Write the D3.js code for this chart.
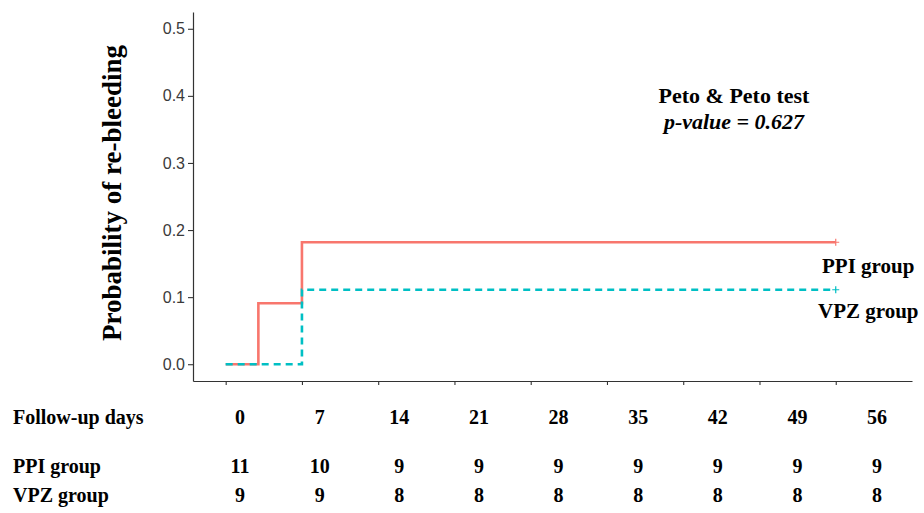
<!DOCTYPE html>
<html>
<head>
<meta charset="utf-8">
<script src="https://cdn.jsdelivr.net/npm/d3@7"></script>
<style>
  body { margin: 0; background: #fff; }
  .serif { font-family: "Liberation Serif", "Times New Roman", serif; font-weight: bold; fill: #000; }
</style>
</head>
<body>
<div class="km"></div>
<script>
// follow-up days shown in the risk table and as x ticks
const days = [0, 7, 14, 21, 28, 35, 42, 49, 56];
const ppiAtRisk = [11, 10, 9, 9, 9, 9, 9, 9, 9];
const vpzAtRisk = [9, 9, 8, 8, 8, 8, 8, 8, 8];

// cumulative probability of re-bleeding (step curves)
const ppiTime = [0, 3, 7, 56];
const ppiProb = [0, 0.0909, 0.1818, 0.1818];
const vpzTime = [0, 7, 56];
const vpzProb = [0, 0.111, 0.111];

const yTicks = [0, 0.1, 0.2, 0.3, 0.4, 0.5];

const width = 924, height = 513;

let svg = d3
  .select(".km")
  .append("svg")
  .attr("width", width)
  .attr("height", height);

// scales (ggplot style 5% expansion)
let x = d3.scaleLinear().domain([-3, 63]).range([193, 912]);
let y = d3.scaleLinear().domain([-0.025, 0.525]).range([381, 12]);

// axes
let xAxis = svg
  .append("g")
  .attr("transform", `translate(0, ${y(-0.025)})`)
  .call(d3.axisBottom(x).tickValues(days).tickFormat("").tickSize(4).tickSizeOuter(0));

let yAxis = svg
  .append("g")
  .attr("transform", `translate(${x(-3)}, 0)`)
  .call(
    d3.axisLeft(y).tickValues(yTicks).tickFormat(d3.format(".1f")).tickSize(5).tickPadding(3).tickSizeOuter(0)
  );

[xAxis, yAxis].forEach(function (a) {
  a.select(".domain").attr("stroke", "#333").attr("stroke-width", 1.2);
  a.selectAll(".tick line").attr("stroke", "#333").attr("stroke-width", 1.1);
});
yAxis
  .selectAll("text")
  .style("font-family", "'Liberation Sans', Arial, sans-serif")
  .style("font-size", "16px")
  .attr("fill", "#3a3a3a");

// y axis title
svg
  .append("text")
  .attr("class", "serif")
  .attr("transform", `translate(121, 193) rotate(-90)`)
  .attr("text-anchor", "middle")
  .style("font-size", "27px")
  .text("Probability of re-bleeding");

// step curves
let line = d3
  .line()
  .x(function (d) { return x(d[0]); })
  .y(function (d) { return y(d[1]); })
  .curve(d3.curveStepAfter);

let groups = [
  { time: ppiTime, prob: ppiProb, color: "#F8766D", dash: null },
  { time: vpzTime, prob: vpzProb, color: "#00BFC4", dash: "7,5" },
];

groups.forEach(function (g) {
  let pts = g.time.map(function (t, i) { return [t, g.prob[i]]; });
  svg
    .append("path")
    .datum(pts)
    .attr("d", line)
    .attr("fill", "none")
    .attr("stroke", g.color)
    .attr("stroke-width", 2.6)
    .attr("stroke-dasharray", g.dash);

  // censor mark at the end
  let last = pts[pts.length - 1];
  let cx = x(last[0]), cy = y(last[1]);
  svg
    .append("path")
    .attr("d", `M${cx - 3.5},${cy}H${cx + 3.5}M${cx},${cy - 3.5}V${cy + 3.5}`)
    .attr("stroke", g.color)
    .attr("stroke-width", 1.2);
});

// group labels near the curve ends
svg.append("text").attr("class", "serif").attr("x", 822).attr("y", 273)
  .style("font-size", "21px").text("PPI group");
svg.append("text").attr("class", "serif").attr("x", 818).attr("y", 318)
  .style("font-size", "21px").text("VPZ group");

// test annotation
svg.append("text").attr("class", "serif").attr("x", 734).attr("y", 103)
  .attr("text-anchor", "middle").style("font-size", "22px").text("Peto & Peto test");
svg.append("text").attr("class", "serif").attr("x", 734).attr("y", 129)
  .attr("text-anchor", "middle").style("font-size", "22px").style("font-style", "italic")
  .text("p-value = 0.627");

// number at risk table
let tableX = d3.scaleLinear().domain([0, 56]).range([240, 877]);
let rows = [
  { label: "Follow-up days", values: days, base: 424 },
  { label: "PPI group", values: ppiAtRisk, base: 473 },
  { label: "VPZ group", values: vpzAtRisk, base: 502 },
];

rows.forEach(function (r) {
  svg.append("text").attr("class", "serif").attr("x", 13).attr("y", r.base)
    .style("font-size", "20px").text(r.label);
  svg
    .append("g")
    .selectAll("text")
    .data(r.values)
    .enter()
    .append("text")
    .attr("class", "serif")
    .attr("x", function (d, i) { return tableX(days[i]); })
    .attr("y", r.base)
    .attr("text-anchor", "middle")
    .style("font-size", "20px")
    .text(function (d) { return d; });
});
</script>
</body>
</html>
